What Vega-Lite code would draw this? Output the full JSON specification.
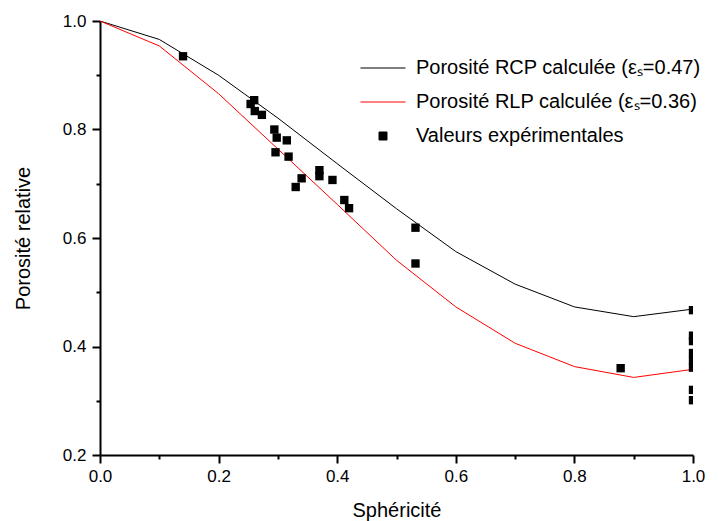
{
  "$schema": "https://vega.github.io/schema/vega-lite/v6.json",
  "width": 593,
  "height": 434,
  "autosize": {"type": "none"},
  "padding": {"left": 100, "top": 21, "right": 25, "bottom": 66},
  "background": "white",
  "config": {
    "view": {"stroke": null},
    "font": "Liberation Sans",
    "axis": {
      "grid": false,
      "domainColor": "black",
      "domainWidth": 2,
      "tickColor": "black",
      "tickWidth": 2,
      "labelColor": "black",
      "labelFont": "Liberation Sans",
      "labelFontSize": 17,
      "labelFlush": false,
      "labelOverlap": false,
      "titleFont": "Liberation Sans",
      "titleFontSize": 20,
      "titleFontWeight": "normal",
      "titleColor": "black"
    },
    "legend": {
      "labelFont": "Liberation Sans",
      "labelFontSize": 20,
      "labelColor": "black",
      "labelLimit": 0
    }
  },
  "datasets": {
    "lines": [
      {"x": 0.0, "y": 1.0, "serie": "Porosité RCP calculée (εₛ=0.47)"},
      {"x": 0.1, "y": 0.966, "serie": "Porosité RCP calculée (εₛ=0.47)"},
      {"x": 0.2, "y": 0.900, "serie": "Porosité RCP calculée (εₛ=0.47)"},
      {"x": 0.3, "y": 0.821, "serie": "Porosité RCP calculée (εₛ=0.47)"},
      {"x": 0.4, "y": 0.737, "serie": "Porosité RCP calculée (εₛ=0.47)"},
      {"x": 0.5, "y": 0.654, "serie": "Porosité RCP calculée (εₛ=0.47)"},
      {"x": 0.6, "y": 0.575, "serie": "Porosité RCP calculée (εₛ=0.47)"},
      {"x": 0.7, "y": 0.515, "serie": "Porosité RCP calculée (εₛ=0.47)"},
      {"x": 0.8, "y": 0.473, "serie": "Porosité RCP calculée (εₛ=0.47)"},
      {"x": 0.9, "y": 0.455, "serie": "Porosité RCP calculée (εₛ=0.47)"},
      {"x": 1.0, "y": 0.469, "serie": "Porosité RCP calculée (εₛ=0.47)"},
      {"x": 0.0, "y": 1.0, "serie": "Porosité RLP calculée (εₛ=0.36)"},
      {"x": 0.1, "y": 0.954, "serie": "Porosité RLP calculée (εₛ=0.36)"},
      {"x": 0.2, "y": 0.866, "serie": "Porosité RLP calculée (εₛ=0.36)"},
      {"x": 0.3, "y": 0.764, "serie": "Porosité RLP calculée (εₛ=0.36)"},
      {"x": 0.4, "y": 0.662, "serie": "Porosité RLP calculée (εₛ=0.36)"},
      {"x": 0.5, "y": 0.559, "serie": "Porosité RLP calculée (εₛ=0.36)"},
      {"x": 0.6, "y": 0.473, "serie": "Porosité RLP calculée (εₛ=0.36)"},
      {"x": 0.7, "y": 0.406, "serie": "Porosité RLP calculée (εₛ=0.36)"},
      {"x": 0.8, "y": 0.363, "serie": "Porosité RLP calculée (εₛ=0.36)"},
      {"x": 0.9, "y": 0.343, "serie": "Porosité RLP calculée (εₛ=0.36)"},
      {"x": 1.0, "y": 0.358, "serie": "Porosité RLP calculée (εₛ=0.36)"}
    ],
    "points": [
      {"x": 0.140, "y": 0.935, "serie": "Valeurs expérimentales"},
      {"x": 0.260, "y": 0.854, "serie": "Valeurs expérimentales"},
      {"x": 0.254, "y": 0.847, "serie": "Valeurs expérimentales"},
      {"x": 0.261, "y": 0.834, "serie": "Valeurs expérimentales"},
      {"x": 0.273, "y": 0.827, "serie": "Valeurs expérimentales"},
      {"x": 0.294, "y": 0.800, "serie": "Valeurs expérimentales"},
      {"x": 0.298, "y": 0.785, "serie": "Valeurs expérimentales"},
      {"x": 0.315, "y": 0.780, "serie": "Valeurs expérimentales"},
      {"x": 0.296, "y": 0.758, "serie": "Valeurs expérimentales"},
      {"x": 0.318, "y": 0.750, "serie": "Valeurs expérimentales"},
      {"x": 0.340, "y": 0.710, "serie": "Valeurs expérimentales"},
      {"x": 0.330, "y": 0.694, "serie": "Valeurs expérimentales"},
      {"x": 0.370, "y": 0.725, "serie": "Valeurs expérimentales"},
      {"x": 0.370, "y": 0.714, "serie": "Valeurs expérimentales"},
      {"x": 0.392, "y": 0.707, "serie": "Valeurs expérimentales"},
      {"x": 0.412, "y": 0.670, "serie": "Valeurs expérimentales"},
      {"x": 0.420, "y": 0.655, "serie": "Valeurs expérimentales"},
      {"x": 0.532, "y": 0.619, "serie": "Valeurs expérimentales"},
      {"x": 0.532, "y": 0.553, "serie": "Valeurs expérimentales"},
      {"x": 0.878, "y": 0.360, "serie": "Valeurs expérimentales"},
      {"x": 1.0, "y": 0.467, "serie": "Valeurs expérimentales"},
      {"x": 1.0, "y": 0.420, "serie": "Valeurs expérimentales"},
      {"x": 1.0, "y": 0.410, "serie": "Valeurs expérimentales"},
      {"x": 1.0, "y": 0.388, "serie": "Valeurs expérimentales"},
      {"x": 1.0, "y": 0.374, "serie": "Valeurs expérimentales"},
      {"x": 1.0, "y": 0.361, "serie": "Valeurs expérimentales"},
      {"x": 1.0, "y": 0.320, "serie": "Valeurs expérimentales"},
      {"x": 1.0, "y": 0.301, "serie": "Valeurs expérimentales"}
    ]
  },
  "encoding": {
    "color": {
      "field": "serie",
      "type": "nominal",
      "scale": {
        "domain": ["Porosité RCP calculée (εₛ=0.47)", "Porosité RLP calculée (εₛ=0.36)", "Valeurs expérimentales"],
        "range": ["black", "red", "black"]
      },
      "legend": {
        "title": null,
        "orient": "none",
        "legendX": 260,
        "legendY": 36,
        "symbolType": "stroke",
        "symbolSize": 2025,
        "symbolStrokeWidth": 1,
        "clipHeight": 22,
        "rowPadding": 12,
        "labelOffset": 10,
        "labelLimit": 0,
        "encode": {
          "symbols": {
            "update": {
              "shape": {"signal": "datum.label == 'Valeurs expérimentales' ? 'square' : 'stroke'"},
              "size": {"signal": "datum.label == 'Valeurs expérimentales' ? 64 : 2025"},
              "fill": {"signal": "datum.label == 'Valeurs expérimentales' ? 'black' : 'transparent'"},
              "stroke": {"signal": "datum.label == 'Valeurs expérimentales' ? 'transparent' : (indexof(datum.label, 'RLP') >= 0 ? 'red' : 'black')"},
              "strokeWidth": {"value": 1},
              "opacity": {"value": 1}
            }
          }
        }
      }
    }
  },
  "resolve": {"axis": {"x": "independent", "y": "independent"}},
  "layer": [
    {
      "data": {"name": "lines"},
      "mark": {"type": "line", "strokeWidth": 1, "clip": true},
      "encoding": {
        "detail": {"field": "serie", "type": "nominal"},
        "x": {
          "field": "x",
          "type": "quantitative",
          "title": "Sphéricité",
          "scale": {"domain": [0, 1], "nice": false, "zero": false},
          "axis": {
            "orient": "bottom",
            "values": [0, 0.2, 0.4, 0.6, 0.8, 1.0],
            "format": ".1f",
            "tickSize": 8,
            "labelPadding": 5,
            "titlePadding": 16
          }
        },
        "y": {
          "field": "y",
          "type": "quantitative",
          "title": "Porosité relative",
          "scale": {"domain": [0.2, 1.0], "nice": false, "zero": false},
          "axis": {
            "orient": "left",
            "values": [0.2, 0.4, 0.6, 0.8, 1.0],
            "format": ".1f",
            "tickSize": 8,
            "labelPadding": 6,
            "titlePadding": 29
          }
        }
      }
    },
    {
      "data": {"name": "points"},
      "mark": {"type": "square", "size": 70, "filled": true, "opacity": 1, "clip": true},
      "encoding": {
        "x": {
          "field": "x",
          "type": "quantitative",
          "scale": {"domain": [0, 1], "nice": false, "zero": false},
          "axis": {
            "orient": "bottom",
            "values": [0.1, 0.3, 0.5, 0.7, 0.9],
            "labels": false,
            "domain": false,
            "title": null,
            "tickSize": 4
          }
        },
        "y": {
          "field": "y",
          "type": "quantitative",
          "scale": {"domain": [0.2, 1.0], "nice": false, "zero": false},
          "axis": {
            "orient": "left",
            "values": [0.3, 0.5, 0.7, 0.9],
            "labels": false,
            "domain": false,
            "title": null,
            "tickSize": 4
          }
        }
      }
    }
  ]
}
